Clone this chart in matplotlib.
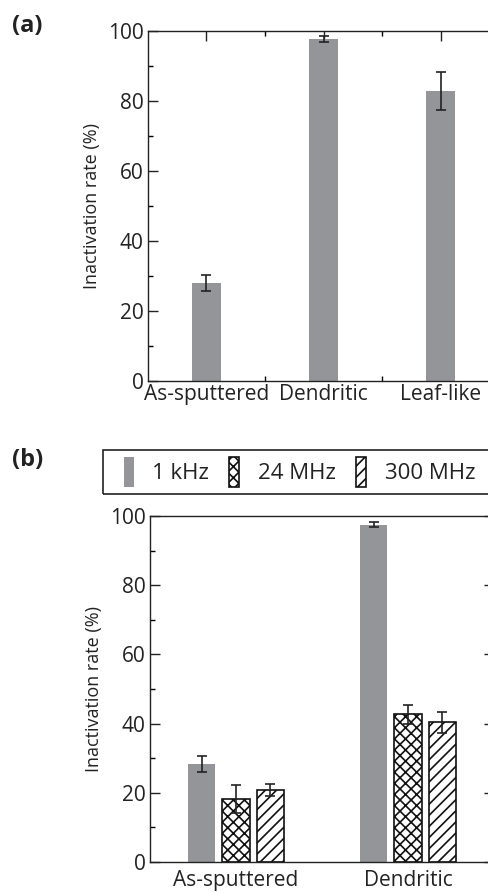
import numpy as np
import matplotlib.pyplot as plt
from matplotlib.patches import Rectangle

plt.rcParams['font.family'] = ['Open Sans', 'DejaVu Sans']
plt.rcParams['hatch.linewidth'] = 1.2
plt.rcParams['axes.linewidth'] = 1.0

# panel (a)
cats_a = ["As-sputtered", "Dendritic", "Leaf-like"]
rate_a = [28.0, 97.7, 82.9]
err_a = [2.2, 0.8, 5.5]

# panel (b)
cats_b = ["As-sputtered", "Dendritic"]
freqs = ["1 kHz", "24 MHz", "300 MHz"]
rate_b = [[28.2, 97.5], [18.2, 42.7], [20.8, 40.4]]
err_b = [[2.3, 0.8], [4.1, 2.8], [1.6, 3.0]]

gray = "#939598"
W, H = 489, 892
fig = plt.figure(figsize=(W / 100, H / 100), dpi=100)


def px_axes(l, t, r, b):
    return fig.add_axes([l / W, 1 - b / H, (r - l) / W, (b - t) / H])


def style(ax):
    ax.set_ylim(0, 100)
    ax.set_yticks(np.arange(0, 101, 20))
    ax.set_yticks(np.arange(10, 100, 20), minor=True)
    ax.tick_params(axis='both', which='major', direction='in', length=7.2, width=1,
                   labelsize=15, colors='#222222', right=True)
    ax.tick_params(axis='both', which='minor', direction='in', length=3.6, width=1, right=True)
    ax.tick_params(axis='y', pad=3)
    ax.set_ylabel("Inactivation rate (%)", fontsize=13, color='#222222', labelpad=5)
    for s in ax.spines.values():
        s.set_color('#222222')


# ---- (a)
ax1 = px_axes(148, 31, 499, 381)
xa = np.arange(len(cats_a))
ax1.bar(xa, rate_a, width=0.24, color=gray, zorder=2)
ax1.errorbar(xa, rate_a, yerr=err_a, fmt='none', ecolor='#222222', elinewidth=1.2,
             capsize=3.6, capthick=1.2, zorder=3)
ax1.set_xlim(-0.5, 2.5)
ax1.set_xticks(xa)
ax1.set_xticklabels(cats_a)
ax1.set_xticks([0.5, 1.5], minor=True)
ax1.tick_params(axis='x', which='both', top=True, pad=2)
style(ax1)

# ---- (b)
ax2 = px_axes(150, 516, 494, 862)
xb = np.arange(len(cats_b))
hatches = [None, 'xxx', '///']
offs = [-0.2, 0.0, 0.2]
handles = []
for i, f in enumerate(freqs):
    if hatches[i] is None:
        h = ax2.bar(xb + offs[i], rate_b[i], width=0.16, color=gray, zorder=2, label=f)
    else:
        h = ax2.bar(xb + offs[i], rate_b[i], width=0.16, color='white', edgecolor='#111111',
                    hatch=hatches[i], linewidth=1.2, zorder=2, label=f)
    ax2.errorbar(xb + offs[i], rate_b[i], yerr=err_b[i], fmt='none', ecolor='#222222',
                 elinewidth=1.2, capsize=3.6, capthick=1.2, zorder=3)
    handles.append(h)
ax2.set_xlim(-0.5, 1.5)
ax2.set_xticks(xb)
ax2.set_xticklabels(cats_b)
ax2.tick_params(axis='x', which='both', top=False, bottom=False, pad=6)
style(ax2)

fig.legend(handles=handles, labels=freqs, loc='center left',
           bbox_to_anchor=(108 / W, 1 - 472 / H), ncol=3, frameon=False, fontsize=16,
           handlelength=0.45, handleheight=1.75, handletextpad=0.85, columnspacing=0.9,
           labelcolor='#222222', borderpad=0.2)
fig.patches.append(Rectangle((103 / W, 1 - 494 / H), 400 / W, 44 / H, transform=fig.transFigure,
                             fill=False, edgecolor='#222222', linewidth=1.2))

fig.text(12 / W, 1 - 14 / H, "(a)", fontsize=17, fontweight='bold', va='top', ha='left', color='#222222')
fig.text(12 / W, 1 - 448 / H, "(b)", fontsize=17, fontweight='bold', va='top', ha='left', color='#222222')

fig.savefig("out.png", dpi=100)
